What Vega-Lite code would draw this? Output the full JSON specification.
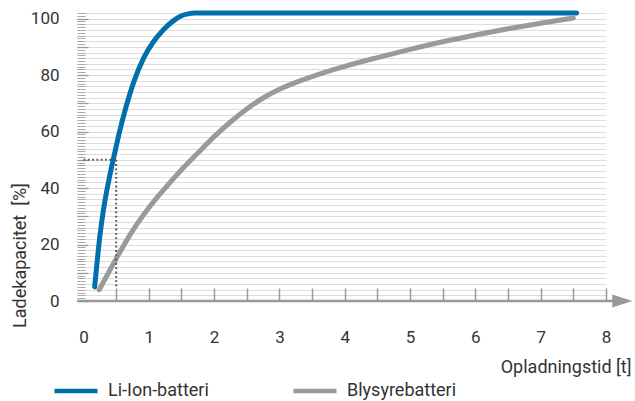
{
  "$schema": "https://vega.github.io/schema/vega-lite/v6.json",
  "width": 529,
  "height": 288,
  "autosize": {"type": "none"},
  "padding": {"left": 77, "top": 13, "right": 29, "bottom": 100},
  "background": "white",
  "config": {
    "view": {"stroke": null},
    "font": "Roboto",
    "axis": {"labelFont": "Roboto", "titleFont": "Roboto", "labelColor": "#333333", "titleColor": "#333333", "titleFontWeight": "normal"},
    "legend": {"labelFont": "Roboto"}
  },
  "resolve": {"axis": {"x": "independent", "y": "independent"}},
  "layer": [
    {
      "data": {"values": [
        {"battery": "Li-Ion-batteri", "t": 0.17, "c": 5},
        {"battery": "Li-Ion-batteri", "t": 0.2, "c": 12},
        {"battery": "Li-Ion-batteri", "t": 0.25, "c": 23},
        {"battery": "Li-Ion-batteri", "t": 0.3, "c": 31.5},
        {"battery": "Li-Ion-batteri", "t": 0.35, "c": 38.3},
        {"battery": "Li-Ion-batteri", "t": 0.4, "c": 44.2},
        {"battery": "Li-Ion-batteri", "t": 0.47, "c": 51.6},
        {"battery": "Li-Ion-batteri", "t": 0.55, "c": 59.8},
        {"battery": "Li-Ion-batteri", "t": 0.66, "c": 69.5},
        {"battery": "Li-Ion-batteri", "t": 0.76, "c": 77},
        {"battery": "Li-Ion-batteri", "t": 0.92, "c": 86},
        {"battery": "Li-Ion-batteri", "t": 1.07, "c": 91.8},
        {"battery": "Li-Ion-batteri", "t": 1.22, "c": 96},
        {"battery": "Li-Ion-batteri", "t": 1.38, "c": 99.3},
        {"battery": "Li-Ion-batteri", "t": 1.5, "c": 101},
        {"battery": "Li-Ion-batteri", "t": 1.6, "c": 101.7},
        {"battery": "Li-Ion-batteri", "t": 1.7, "c": 102},
        {"battery": "Li-Ion-batteri", "t": 7.55, "c": 102},
        {"battery": "Blysyrebatteri", "t": 0.24, "c": 4},
        {"battery": "Blysyrebatteri", "t": 0.4, "c": 10.8},
        {"battery": "Blysyrebatteri", "t": 0.5, "c": 15},
        {"battery": "Blysyrebatteri", "t": 0.7, "c": 23},
        {"battery": "Blysyrebatteri", "t": 1.0, "c": 33},
        {"battery": "Blysyrebatteri", "t": 1.25, "c": 40},
        {"battery": "Blysyrebatteri", "t": 1.5, "c": 46.5},
        {"battery": "Blysyrebatteri", "t": 1.75, "c": 52.4},
        {"battery": "Blysyrebatteri", "t": 2.0, "c": 58.2},
        {"battery": "Blysyrebatteri", "t": 2.25, "c": 63.4},
        {"battery": "Blysyrebatteri", "t": 2.5, "c": 68},
        {"battery": "Blysyrebatteri", "t": 2.75, "c": 71.9},
        {"battery": "Blysyrebatteri", "t": 3.0, "c": 75},
        {"battery": "Blysyrebatteri", "t": 3.5, "c": 79.5},
        {"battery": "Blysyrebatteri", "t": 4.0, "c": 83.1},
        {"battery": "Blysyrebatteri", "t": 4.5, "c": 86.2},
        {"battery": "Blysyrebatteri", "t": 5.0, "c": 89.1},
        {"battery": "Blysyrebatteri", "t": 5.5, "c": 91.8},
        {"battery": "Blysyrebatteri", "t": 6.0, "c": 94.2},
        {"battery": "Blysyrebatteri", "t": 6.5, "c": 96.4},
        {"battery": "Blysyrebatteri", "t": 7.0, "c": 98.4},
        {"battery": "Blysyrebatteri", "t": 7.5, "c": 100.2}
      ]},
      "mark": {"type": "line", "strokeWidth": 5, "strokeCap": "round", "strokeJoin": "round", "interpolate": "monotone"},
      "encoding": {
        "x": {
          "field": "t", "type": "quantitative",
          "scale": {"domain": [-0.1, 8], "nice": false, "zero": false},
          "axis": {
            "orient": "bottom", "values": [0, 1, 2, 3, 4, 5, 6, 7, 8],
            "domain": false, "ticks": false, "tickSize": 0, "grid": false,
            "labelPadding": 36, "labelBaseline": "middle", "labelFontSize": 17, "labelFlush": false, "labelOverlap": false,
            "title": "Opladningstid [t]", "titleFontSize": 18, "titleAlign": "right", "titleBaseline": "middle",
            "titleAnchor": "end", "titleX": 554, "titleY": 66
          }
        },
        "y": {
          "field": "c", "type": "quantitative",
          "scale": {"domain": [0, 102], "nice": false},
          "axis": {
            "orient": "left", "tickCount": 51, "grid": true, "gridColor": "#dcdcdc", "gridWidth": 1,
            "domain": false, "ticks": false, "tickSize": 0, "labels": false, "title": null, "zindex": 0
          }
        },
        "color": {
          "field": "battery", "type": "nominal",
          "scale": {"domain": ["Li-Ion-batteri", "Blysyrebatteri"], "range": ["#0070ad", "#9a9a9c"]},
          "legend": {
            "title": null, "orient": "none", "legendX": -25, "legendY": 354, "direction": "horizontal",
            "symbolType": "stroke", "symbolSize": 1849, "symbolStrokeWidth": 4.5,
            "labelFontSize": 18, "labelColor": "#333333", "labelOffset": 8, "columnPadding": 75, "labelLimit": 300
          }
        }
      }
    },
    {
      "data": {"values": [{}]},
      "mark": {"type": "rule", "color": "#555555", "strokeWidth": 2, "strokeDash": [1.8, 2.5]},
      "encoding": {
        "x": {
          "datum": 0, "type": "quantitative",
          "scale": {"domain": [-0.1, 8], "nice": false, "zero": false},
          "axis": {
            "orient": "bottom", "values": [0.5, 1, 1.5, 2, 2.5, 3, 3.5, 4, 4.5, 5, 5.5, 6, 6.5, 7, 7.5, 8],
            "domain": false, "labels": false, "grid": false, "ticks": true, "tickSize": 13, "tickColor": "#999999",
            "tickWidth": 1.5, "offset": -13, "title": null
          }
        },
        "x2": {"datum": 0.5},
        "y": {
          "datum": 50, "type": "quantitative",
          "scale": {"domain": [0, 102], "nice": false},
          "axis": {
            "orient": "left", "values": [0, 20, 40, 60, 80, 100],
            "domain": false, "ticks": false, "tickSize": 0, "grid": false,
            "labelPadding": 18, "labelFontSize": 17, "labelBaseline": "middle",
            "title": "Ladekapacitet\u00a0 [%]", "titleFontSize": 18, "titleAngle": -90, "titleAlign": "center",
            "titleBaseline": "middle", "titleX": -57, "titleY": 242
          }
        }
      }
    },
    {
      "data": {"values": [{}]},
      "mark": {"type": "rule", "color": "#555555", "strokeWidth": 2, "strokeDash": [1.8, 2.5]},
      "encoding": {
        "x": {"datum": 0.5, "type": "quantitative", "scale": {"domain": [-0.1, 8], "nice": false, "zero": false}, "axis": null},
        "y": {
          "datum": 50, "type": "quantitative",
          "scale": {"domain": [0, 102], "nice": false},
          "axis": {
            "orient": "left", "tickCount": 102, "domain": false, "labels": false, "grid": false,
            "ticks": true, "tickSize": 8, "offset": -8, "tickColor": "#aaaaaa", "tickWidth": 1, "title": null
          }
        },
        "y2": {"datum": 5}
      }
    },
    {
      "data": {"values": [{}]},
      "mark": {"type": "rule", "color": "#999999", "strokeWidth": 2.5},
      "encoding": {
        "x": {"datum": -0.1, "type": "quantitative", "scale": {"domain": [-0.1, 8], "nice": false, "zero": false}, "axis": null},
        "x2": {"datum": 8.2},
        "y": {
          "datum": 0, "type": "quantitative",
          "scale": {"domain": [0, 102], "nice": false},
          "axis": {
            "orient": "left", "values": [0, 10, 20, 30, 40, 50, 60, 70, 80, 90, 100],
            "domain": false, "labels": false, "grid": false,
            "ticks": true, "tickSize": 11, "offset": -11, "tickColor": "#999999", "tickWidth": 1.3, "title": null
          }
        }
      }
    },
    {
      "data": {"values": [{}]},
      "mark": {"type": "point", "shape": "M -1 -0.65 L 1 0 L -1 0.65 Z", "size": 400, "filled": true, "color": "#999999", "opacity": 1, "strokeWidth": 0},
      "encoding": {
        "x": {"datum": 8.25, "type": "quantitative", "scale": {"domain": [-0.1, 8], "nice": false, "zero": false}, "axis": null},
        "y": {"datum": 0, "type": "quantitative", "scale": {"domain": [0, 102], "nice": false}, "axis": null}
      }
    }
  ]
}
